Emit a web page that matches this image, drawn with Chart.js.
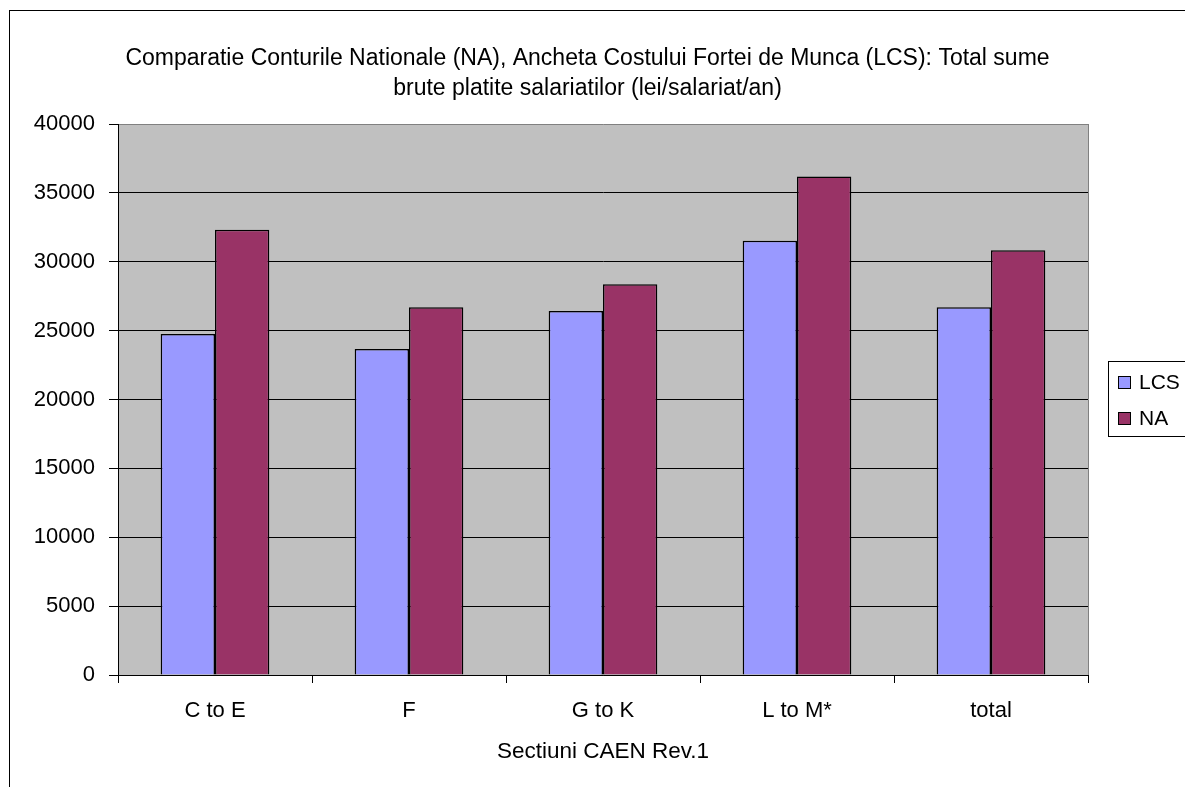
<!DOCTYPE html>
<html lang="ro">
<head>
  <meta charset="UTF-8">
  <title>Comparatie NA - LCS</title>
  <script src="https://cdn.jsdelivr.net/npm/chart.js"></script>
  <style>
        html, body {
            margin: 0;
            padding: 0;
            background-color: #ffffff;
            overflow: hidden;
        }

        #wrap {
            position: relative;
            width: 1185px;
            height: 787px;
        }
    </style>
</head>
<body>
<div id="wrap">
  <canvas id="naChart" width="1185" height="787"></canvas>
</div>
<script>
    const categories = ['C to E', 'F', 'G to K', 'L to M*', 'total'];
    const lcsValues = [24750, 23670, 26430, 31520, 26690];
    const naValues = [32320, 26690, 28370, 36190, 30840];
    const yTicks = [0, 5000, 10000, 15000, 20000, 25000, 30000, 35000, 40000];

    const titleLines = [
        'Comparatie Conturile Nationale (NA), Ancheta Costului Fortei de Munca (LCS): Total sume',
        'brute platite salariatilor (lei/salariat/an)'
    ];
    const xTitle = 'Sectiuni CAEN Rev.1';

    const FONT = 'Arial, "Liberation Sans", sans-serif';

    // fundal gri + chenarul exterior
    const backgroundPlugin = {
        id: 'plotBackground',
        beforeDraw(chart) {
            const { ctx, chartArea } = chart;
            ctx.save();
            ctx.strokeStyle = '#000000';
            ctx.lineWidth = 1;
            ctx.strokeRect(9.5, 10.5, 1400, 1000);
            ctx.fillStyle = '#c0c0c0';
            ctx.fillRect(chartArea.left, chartArea.top, chartArea.right - chartArea.left, chartArea.bottom - chartArea.top);
            ctx.restore();
        },
        afterDraw(chart) {
            const { ctx, chartArea } = chart;
            ctx.save();
            ctx.strokeStyle = '#808080';
            ctx.lineWidth = 1;
            ctx.beginPath();
            ctx.moveTo(Math.round(chartArea.right) + 0.5, chartArea.top);
            ctx.lineTo(Math.round(chartArea.right) + 0.5, chartArea.bottom);
            ctx.stroke();
            ctx.restore();
        }
    };

    // legenda cu chenar, ca in Excel
    const boxLegendPlugin = {
        id: 'boxLegend',
        afterDraw(chart) {
            const { ctx } = chart;
            const left = 1108.5, top = 361.5;
            ctx.save();
            ctx.fillStyle = '#ffffff';
            ctx.fillRect(left, top, 120, 75);
            ctx.strokeStyle = '#000000';
            ctx.lineWidth = 1;
            ctx.strokeRect(left, top, 120, 75);
            ctx.font = '21px ' + FONT;
            ctx.textBaseline = 'middle';
            chart.data.datasets.forEach((ds, i) => {
                const cy = 382 + i * 36;
                ctx.fillStyle = ds.backgroundColor;
                ctx.fillRect(1118.5, cy - 5.5, 12, 12);
                ctx.strokeRect(1118.5, cy - 5.5, 12, 12);
                ctx.fillStyle = '#000000';
                ctx.fillText(ds.label, 1139, cy + 1);
            });
            ctx.restore();
        }
    };

    const ctx = document.getElementById('naChart').getContext('2d');
    window.naChart = new Chart(ctx, {
        type: 'bar',
        data: {
            labels: categories,
            datasets: [{
                label: 'LCS',
                data: lcsValues,
                backgroundColor: '#9999ff',
                borderColor: '#000000',
                borderWidth: 1.5
            }, {
                label: 'NA',
                data: naValues,
                backgroundColor: '#993366',
                borderColor: '#000000',
                borderWidth: 1.5
            }]
        },
        options: {
            responsive: false,
            animation: false,
            categoryPercentage: 0.56,
            barPercentage: 1.0,
            layout: {
                padding: { left: 0, right: 10, top: 10, bottom: 0 }
            },
            plugins: {
                legend: {
                    display: false
                },
                tooltip: {
                    enabled: false
                },
                title: {
                    display: true,
                    text: titleLines,
                    color: '#000000',
                    font: { family: FONT, size: 23, weight: 'normal', lineHeight: 30 / 23 },
                    padding: { top: 34, bottom: 20 }
                }
            },
            scales: {
                y: {
                    min: 0,
                    max: 40000,
                    afterFit: (scale) => { scale.width = 118; },
                    afterBuildTicks: (scale) => { scale.ticks = yTicks.map(v => ({ value: v })); },
                    ticks: {
                        color: '#000000',
                        padding: 14,
                        font: { family: FONT, size: 22 },
                        callback: (v) => String(v)
                    },
                    grid: {
                        color: (c) => (c.tick && c.tick.value === 40000 ? '#808080' : '#000000'),
                        tickColor: '#000000',
                        tickLength: 9,
                        lineWidth: 1
                    },
                    border: {
                        display: true,
                        color: '#000000',
                        width: 1
                    }
                },
                // spatiu gol pentru legenda din dreapta
                legendSpace: {
                    type: 'linear',
                    position: 'right',
                    display: true,
                    afterFit: (scale) => { scale.width = 87; },
                    ticks: { display: false },
                    grid: { display: false, drawTicks: false },
                    border: { display: false }
                },
                x: {
                    afterFit: (scale) => { scale.height = 112; },
                    ticks: {
                        color: '#000000',
                        padding: 15,
                        font: { family: FONT, size: 22 }
                    },
                    grid: {
                        offset: true,
                        drawOnChartArea: false,
                        tickColor: '#000000',
                        tickLength: 8
                    },
                    border: {
                        display: true,
                        color: '#000000',
                        width: 1
                    },
                    title: {
                        display: true,
                        text: xTitle,
                        color: '#000000',
                        font: { family: FONT, size: 22.5 },
                        padding: { top: 0, bottom: 21.5 }
                    }
                }
            }
        },
        plugins: [backgroundPlugin, boxLegendPlugin]
    });
</script>
</body>
</html>
